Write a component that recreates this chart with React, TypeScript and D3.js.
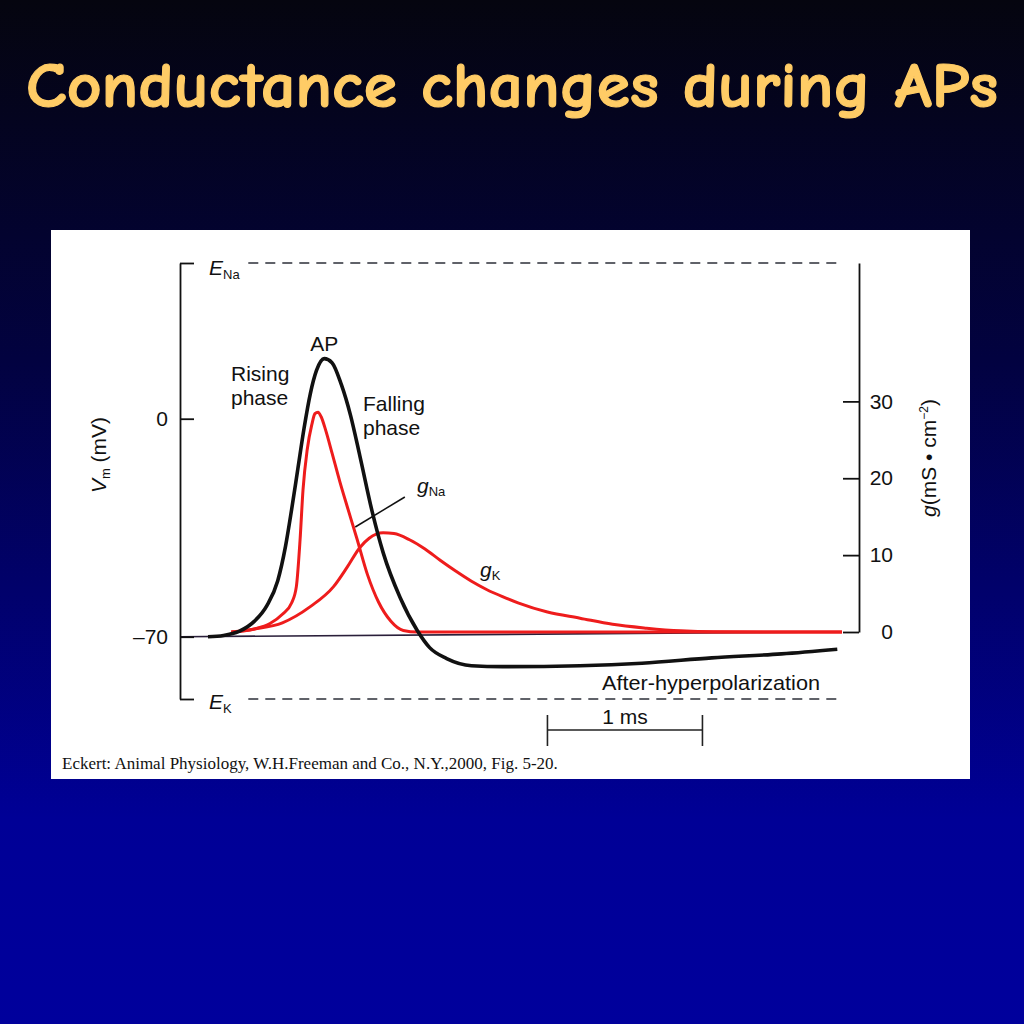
import React, { useEffect, useRef } from 'react';
import * as d3 from 'd3';

// membrane potential (mV) against time (ms)
const apTime = [0, 0.1, 0.2, 0.3, 0.38, 0.45, 0.5, 0.54, 0.58, 0.62, 0.66, 0.7, 0.75, 0.8, 0.86, 0.92, 0.98, 1.06, 1.13, 1.24, 1.35, 1.43, 1.54, 1.7, 1.9, 2.4, 2.8, 3.25, 3.7, 4.06];
const apVm = [-70, -69.6, -68.3, -65, -60, -52, -41, -29, -16, -3, 8, 15.5, 19.3, 18, 11, 1, -12, -30, -43, -57.5, -68, -73.5, -77, -79.3, -79.6, -79.3, -78.5, -76.8, -75.5, -74];

// sodium conductance (mS/cm2)
const naTime = [0.15, 0.3, 0.4, 0.48, 0.54, 0.57, 0.594, 0.613, 0.64, 0.67, 0.69, 0.71, 0.73, 0.76, 0.8, 0.85, 0.9, 0.96, 1.03, 1.1, 1.18, 1.26, 1.35, 4.09];
const gNa = [0, 0.4, 1.1, 2.3, 3.8, 5.9, 12, 18.5, 23.7, 27.0, 28.4, 28.6, 28.0, 26.2, 23.3, 19.6, 16.2, 12.2, 7.4, 3.9, 1.4, 0.2, 0, 0];

// potassium conductance (mS/cm2)
const kTime = [0.15, 0.3, 0.48, 0.66, 0.81, 0.9, 0.98, 1.04, 1.13, 1.2, 1.3, 1.4, 1.5, 1.6, 1.7, 1.8, 1.9, 2.0, 2.19, 2.4, 2.61, 2.83, 3.05, 3.26, 4.09];
const gK = [0, 0.4, 1.2, 3.3, 5.9, 8.5, 11, 12.2, 12.9, 12.8, 12.0, 10.8, 9.3, 7.9, 6.6, 5.5, 4.6, 3.8, 2.6, 1.8, 1.0, 0.5, 0.15, 0.02, 0];

const E_NA = 50;
const E_K = -90;
const vTicks = [E_NA, 0, -70, E_K];
const vTickLabels = ['', '0', '\u201370', ''];
const gTicks = [0, 10, 20, 30];
const gMax = 48;
const dashSpan = [0.26, 4.06];
const baselineEnd = 4.09;
const scaleBarStart = 2.19;
const scaleBarLen = 1;

const SANS = '"Liberation Sans", Arial, Helvetica, sans-serif';

const App = () => {
  const leftRef = useRef<SVGGElement>(null);
  const rightRef = useRef<SVGGElement>(null);

  const t = d3.scaleLinear().domain([0, 4.1]).range([208, 843.5]);
  const v = d3.scaleLinear().domain([E_K, E_NA]).range([699, 263]);
  const g = d3.scaleLinear().domain([0, gMax]).range([632, 263]);

  const vLine = d3
    .line<number>()
    .x((_, i) => t(apTime[i]))
    .y((d) => v(d))
    .curve(d3.curveMonotoneX);
  const naLine = d3
    .line<number>()
    .x((_, i) => t(naTime[i]))
    .y((d) => g(d))
    .curve(d3.curveMonotoneX);
  const kLine = d3
    .line<number>()
    .x((_, i) => t(kTime[i]))
    .y((d) => g(d))
    .curve(d3.curveMonotoneX);

  useEffect(() => {
    const left = d3.select(leftRef.current);
    left.selectAll('*').remove();
    left.call(
      d3
        .axisLeft(v)
        .tickValues(vTicks)
        .tickSizeInner(-14)
        .tickSizeOuter(0)
        .tickPadding(12)
        .tickFormat((_, i) => vTickLabels[i])
    );
    left.select('.domain').attr('stroke', '#111').attr('stroke-width', 1.8);
    left.selectAll('.tick line').attr('stroke', '#111').attr('stroke-width', 1.8);
    left.selectAll('.tick text').attr('font-size', 21).attr('font-family', SANS).attr('fill', '#111');

    const right = d3.select(rightRef.current);
    right.selectAll('*').remove();
    right.call(
      d3
        .axisRight(g)
        .tickValues(gTicks)
        .tickSizeInner(-16)
        .tickSizeOuter(0)
        .tickPadding(9)
    );
    right.select('.domain').attr('stroke', '#111').attr('stroke-width', 1.8);
    right.selectAll('.tick line').attr('stroke', '#111').attr('stroke-width', 1.8);
    right
      .selectAll('.tick text')
      .attr('font-size', 21)
      .attr('font-family', SANS)
      .attr('fill', '#111')
      .attr('text-anchor', 'end')
      .attr('x', 34);
  }, []);

  const barY = 730;

  return (
    <svg width={1024} height={1024} style={{ position: 'absolute', left: 0, top: 0 }}>
      <defs>
        <linearGradient id="bg" x1="0" y1="0" x2="0" y2="1">
          <stop offset="0" stopColor="#05050f" />
          <stop offset="0.35" stopColor="#020240" />
          <stop offset="0.8" stopColor="#000096" />
          <stop offset="1" stopColor="#00009c" />
        </linearGradient>
      </defs>
      <rect width={1024} height={1024} fill="url(#bg)" />
      <text
        x={512}
        y={107}
        textAnchor="middle"
        fill="#ffcc66"
        stroke="#ffcc66"
        strokeWidth={1.2}
        fontSize={65}
        fontWeight="bold"
        fontFamily='"Comic Sans MS", "Comic Neue", Lato, sans-serif'
        textLength={972}
        lengthAdjust="spacingAndGlyphs"
      >
        Conductance changes during APs
      </text>

      <rect x={51} y={230} width={919} height={549} fill="#ffffff" />

      {/* reversal potentials */}
      {[E_NA, E_K].map((e) => (
        <line
          key={e}
          x1={t(dashSpan[0])}
          x2={t(dashSpan[1])}
          y1={v(e)}
          y2={v(e)}
          stroke="#2c2f38"
          strokeWidth={1.6}
          strokeDasharray="10 7"
        />
      ))}

      {/* resting baseline */}
      <line x1={180} y1={v(-70)} x2={t(baselineEnd)} y2={g(0)} stroke="#2a1f3a" strokeWidth={1.6} />

      <g ref={leftRef} transform="translate(180,0)" />
      <g ref={rightRef} transform="translate(859,0)" />

      <path d={kLine(gK) || ''} fill="none" stroke="#ee1c1c" strokeWidth={3} />
      <path d={naLine(gNa) || ''} fill="none" stroke="#ee1c1c" strokeWidth={3} />
      <path d={vLine(apVm) || ''} fill="none" stroke="#111" strokeWidth={3.6} />

      {/* gNa pointer */}
      <line x1={t(1.27)} y1={497} x2={t(0.95)} y2={527} stroke="#111" strokeWidth={1.5} />

      <g fontFamily={SANS} fill="#111" fontSize={21}>
        <text x={t(0.75)} y={351} textAnchor="middle">AP</text>
        <text x={231} y={381}>Rising</text>
        <text x={231} y={405}>phase</text>
        <text x={363} y={411}>Falling</text>
        <text x={363} y={435}>phase</text>
        <text x={602} y={690} textLength={218} lengthAdjust="spacingAndGlyphs">After-hyperpolarization</text>
        <text x={t(scaleBarStart + scaleBarLen / 2)} y={724} textAnchor="middle">1 ms</text>

        <text x={209} y={275}>
          <tspan fontStyle="italic">E</tspan>
          <tspan fontSize={13} dy={4}>Na</tspan>
        </text>
        <text x={209} y={709}>
          <tspan fontStyle="italic">E</tspan>
          <tspan fontSize={13} dy={4}>K</tspan>
        </text>
        <text x={417} y={493}>
          <tspan fontStyle="italic">g</tspan>
          <tspan fontSize={13} dy={3}>Na</tspan>
        </text>
        <text x={480} y={577}>
          <tspan fontStyle="italic">g</tspan>
          <tspan fontSize={13} dy={3}>K</tspan>
        </text>

        <text transform="translate(106,455) rotate(-90)" textAnchor="middle">
          <tspan fontStyle="italic">V</tspan>
          <tspan fontSize={13} dy={4}>m</tspan>
          <tspan dy={-4}> (mV)</tspan>
        </text>
        <text transform="translate(936,458) rotate(-90)" textAnchor="middle">
          <tspan fontStyle="italic">g</tspan>
          <tspan>(mS • cm</tspan>
          <tspan fontSize={12} dy={-8}>{'\u22122'}</tspan>
          <tspan dy={8}>)</tspan>
        </text>
      </g>

      {/* 1 ms scale bar */}
      <g stroke="#222" strokeWidth={1.6}>
        <line x1={t(scaleBarStart)} x2={t(scaleBarStart + scaleBarLen)} y1={barY} y2={barY} />
        <line x1={t(scaleBarStart)} x2={t(scaleBarStart)} y1={barY - 15} y2={barY + 16} />
        <line
          x1={t(scaleBarStart + scaleBarLen)}
          x2={t(scaleBarStart + scaleBarLen)}
          y1={barY - 15}
          y2={barY + 16}
        />
      </g>

      <text x={62} y={769} fontFamily='"Liberation Serif", "Times New Roman", serif' fontSize={17} fill="#111">
        Eckert: Animal Physiology, W.H.Freeman and Co., N.Y.,2000, Fig. 5-20.
      </text>
    </svg>
  );
};

export default App;
